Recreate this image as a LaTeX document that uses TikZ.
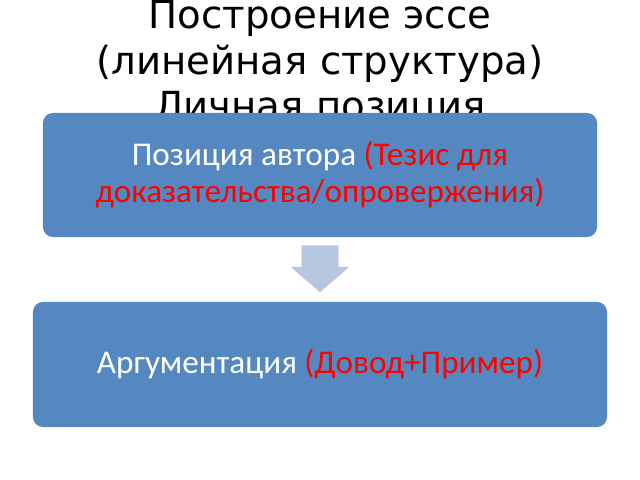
\documentclass[tikz,border=0pt]{standalone}
\usepackage{fontspec}
\setmainfont{Carlito}
\newfontfamily\titlefont{DejaVu Sans}
\usetikzlibrary{calc}
\usetikzlibrary{shapes.arrows}
\definecolor{boxblue}{RGB}{85,136,193}
\definecolor{arrowblue}{RGB}{184,199,225}
\definecolor{tezred}{RGB}{255,0,0}

\begin{document}
\begin{tikzpicture}[x=0.025cm,y=-0.025cm,
		ttl/.style={anchor=base,inner sep=0pt,font=\titlefont\fontsize{27.5}{32}\selectfont},
		blk/.style={
			fill=boxblue,
			rounded corners=0.25cm,
			text=white,
			align=center,
			font=\fontsize{23.6}{26.3}\selectfont,
		},
		downarrow/.style={
			single arrow,
			shape border rotate=270,
			fill=arrowblue,
			inner xsep=0.45cm,
			inner ysep=0pt,
			minimum height=1.175cm,
			single arrow head extend=0.275cm,
			single arrow tip angle=98,
		},
	]
	\useasboundingbox (0,0) rectangle (640,480);
	% title, its last line is hidden under the first box
	\node[ttl] (t1) at (320,29) {Построение эссе};
	\node[ttl] (t2) at (320,74) {(линейная структура)};
	\node[ttl] (t3) at (320,119) {Личная позиция};
	\node[blk,minimum width=13.85cm,minimum height=3.1cm] (pos) at (320,175)
		{Позиция автора \textcolor{tezred}{(Тезис для}\\
		\textcolor{tezred}{доказательства/опровержения)}};
	\node[blk,minimum width=14.35cm,minimum height=3.125cm] (arg) at (320,364.5)
		{Аргументация \textcolor{tezred}{(Довод+Пример)}};
	\node[downarrow,anchor=tip] (arr) at ($(arg.north)+(0,-9)$) {};
\end{tikzpicture}
\end{document}
